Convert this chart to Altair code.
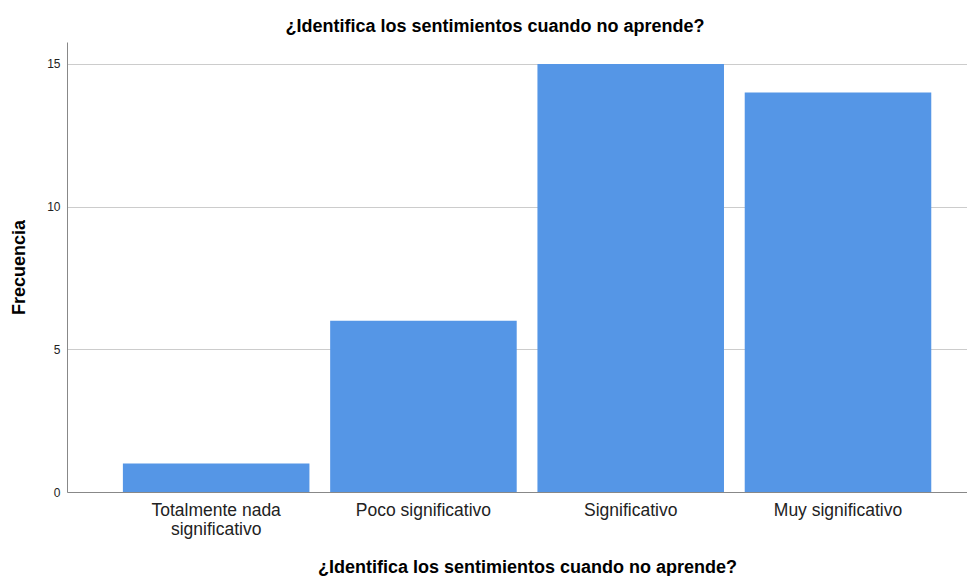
import altair as alt
import pandas as pd

categories = ["Totalmente nada significativo", "Poco significativo", "Significativo", "Muy significativo"]
frecuencia = [1, 6, 15, 14]
y_ticks = [0, 5, 10, 15]

df = pd.DataFrame({"cat": categories, "Frecuencia": frecuencia})

label_expr = (
    "datum.value == 'Totalmente nada significativo' ? ['Totalmente nada', 'significativo'] : datum.value"
)

title_text = "¿Identifica los sentimientos cuando no aprende?"

chart = alt.Chart(df).mark_bar(color="#5596e6").encode(
    x=alt.X(
        "cat:N",
        sort=categories,
        scale=alt.Scale(paddingInner=0.1, paddingOuter=0.221, align=0.61),
        axis=alt.Axis(
            title=title_text,
            titleFont="Liberation Sans",
            titleFontSize=18,
            titleFontWeight="bold",
            titleColor="#000000",
            titleX=460,
            titleY=75,
            titleBaseline="middle",
            titleAlign="center",
            labelExpr=label_expr,
            labelAngle=0,
            labelFont="Liberation Sans",
            labelFontSize=17.5,
            labelLineHeight=19,
            labelColor="#222222",
            labelPadding=9,
            ticks=False,
            tickSize=0,
            domainColor="#888888",
            domainWidth=1,
            grid=False,
        ),
    ),
    y=alt.Y(
        "Frecuencia:Q",
        scale=alt.Scale(domain=[0, 15.77], nice=False),
        axis=alt.Axis(
            values=y_ticks,
            title="Frecuencia",
            titleFont="Liberation Sans",
            titleFontSize=18,
            titleFontWeight="bold",
            titleColor="#000000",
            titleAngle=-90,
            titleX=-48,
            titleY=225,
            titleAlign="center",
            titleBaseline="middle",
            labelFont="Liberation Sans",
            labelFontSize=12,
            labelColor="#222222",
            labelPadding=7,
            ticks=False,
            tickSize=0,
            domainColor="#888888",
            domainWidth=1,
            grid=True,
            gridColor="#cccccc",
            gridWidth=1,
        ),
    ),
).properties(
    width=900,
    height=450,
    title=alt.TitleParams(
        text=title_text,
        font="Liberation Sans",
        fontSize=18,
        fontWeight="bold",
        color="#000000",
        anchor="middle",
        dx=-22,
        offset=6,
    ),
    autosize=alt.AutoSizeParams(type="none"),
    padding={"left": 59, "top": 34, "right": 0, "bottom": 84},
).configure_view(stroke=None)

chart.save("out.html", embed_options={"renderer": "svg", "actions": False})
